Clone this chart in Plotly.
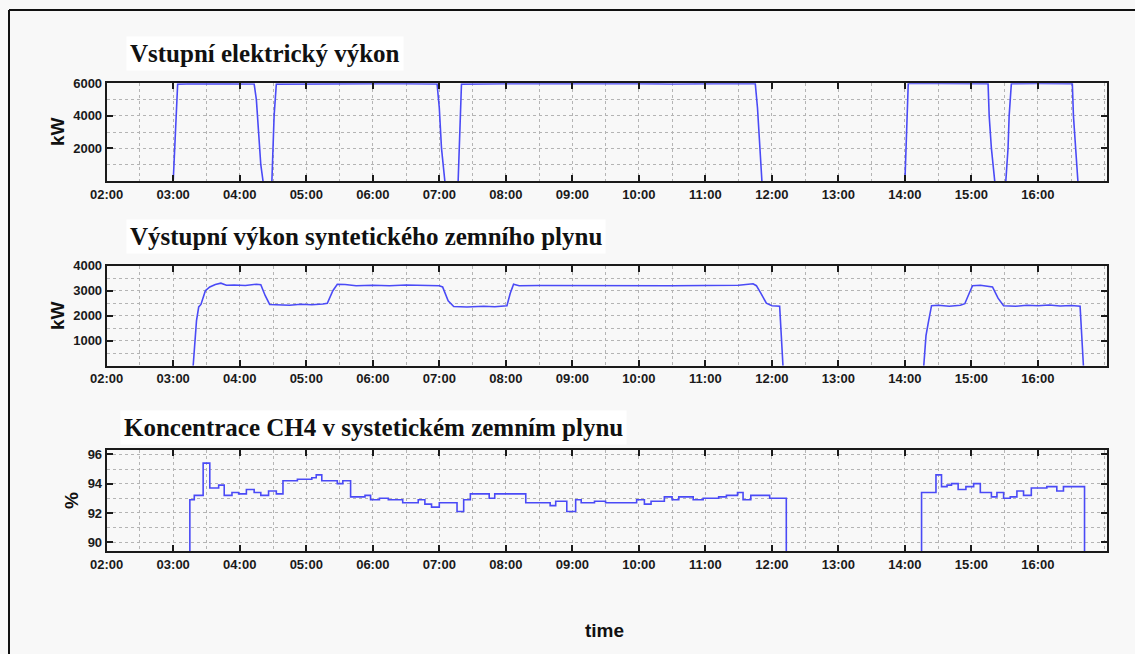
import pandas as pd
import plotly.graph_objects as go

DAY = "2020-01-01 "

# ---- Panel 1: Vstupní elektrický výkon (kW); None = line hidden on the zero level ----
t_el = ["03:00", "03:02", "03:04", "03:20", "03:40", "04:00", "04:13", "04:15", "04:17", "04:19", "04:21",
        "04:25",
        "04:29", "04:31", "04:33", "05:00", "05:30", "06:00", "06:30", "06:58", "07:00", "07:02", "07:05",
        "07:10",
        "07:17", "07:18", "07:20", "08:00", "08:30", "09:00", "09:30", "10:00", "10:30", "11:00", "11:30",
        "11:45", "11:47", "11:49", "11:51", "13:00",
        "14:00", "14:02", "14:03", "14:30", "15:00", "15:15", "15:16",
        "15:18", "15:21", "15:25",
        "15:31", "15:33", "15:34", "15:36", "16:00", "16:31", "16:32", "16:34", "16:36"]
p_el = [0, 3000, 5950, 5980, 5960, 5970, 5960, 5000, 3000, 1000, 0,
        None,
        0, 4000, 5950, 5970, 5960, 5980, 5970, 5960, 4500, 2000, 0,
        None,
        0, 2500, 5950, 5970, 5980, 5960, 5970, 5980, 5960, 5980, 5990,
        5990, 4500, 2000, 0, None,
        0, 4000, 5990, 5990, 5990, 5980, 4000,
        2000, 0, None,
        0, 2000, 4000, 5980, 5990, 5980, 4000, 2000, 0]

# ---- Panel 2: Výstupní výkon syntetického zemního plynu (kW) ----
t_sng = ["03:18", "03:21", "03:23", "03:25", "03:29", "03:33", "03:38", "03:43", "03:48", "03:55", "04:05",
         "04:15", "04:19", "04:23", "04:27", "04:35", "04:45", "04:55", "05:05", "05:15", "05:19", "05:24",
         "05:28", "05:35", "05:45", "06:00", "06:15", "06:30", "06:45", "07:00", "07:03", "07:08", "07:13",
         "07:25", "07:40", "07:50", "08:01", "08:04", "08:07", "08:12", "08:30", "09:00", "09:30", "10:00",
         "10:30", "11:00", "11:30", "11:43", "11:46", "11:50", "11:55", "12:00", "12:07", "12:10",
         "13:00",
         "14:17", "14:19", "14:21", "14:24", "14:30", "14:40", "14:50", "14:54", "14:58", "15:01", "15:08",
         "15:15", "15:19", "15:24", "15:29", "15:40", "15:50", "16:00", "16:10", "16:20", "16:30", "16:38",
         "16:41"]
p_sng = [0, 1800, 2350, 2450, 3000, 3150, 3250, 3300, 3220, 3230, 3210,
         3260, 3240, 2800, 2450, 2430, 2420, 2460, 2440, 2470, 2500, 3000,
         3260, 3250, 3200, 3220, 3200, 3230, 3210, 3200, 3150, 2600, 2370,
         2350, 2380, 2360, 2400, 2900, 3260, 3200, 3210, 3200, 3190, 3210,
         3200, 3210, 3220, 3280, 3200, 2900, 2500, 2400, 2380, 0,
         None,
         0, 1200, 1700, 2400, 2420, 2380, 2420, 2480, 2900, 3200, 3220,
         3180, 3150, 2700, 2400, 2380, 2420, 2400, 2430, 2390, 2410, 2380,
         0]

# ---- Panel 3: Koncentrace CH4 (%) ----
t_ch4 = ["03:15", "03:15", "03:19", "03:27", "03:33", "03:41", "03:46", "03:53", "03:59", "04:06", "04:13",
         "04:19", "04:26", "04:33", "04:39", "04:52", "05:05", "05:09", "05:14", "05:28", "05:33", "05:40",
         "05:53", "05:58", "06:06", "06:14", "06:27", "06:41", "06:47", "06:53", "07:00", "07:16", "07:22",
         "07:28", "07:45", "07:50", "08:18", "08:40", "08:45", "08:55", "09:03", "09:08", "09:20", "09:30",
         "09:58", "10:05", "10:11", "10:23", "10:30", "10:36", "10:49", "10:58", "11:12", "11:19", "11:29",
         "11:34", "11:41", "11:58", "12:13", "14:15", "14:15", "14:28", "14:33", "14:38", "14:42", "14:48",
         "14:55", "15:02", "15:08", "15:18", "15:23", "15:29", "15:35", "15:41", "15:47", "15:54", "16:08",
         "16:17", "16:23", "16:42"]
c_ch4 = [89.0, 92.9, 93.2, 95.4, 93.7, 93.9, 93.2, 93.4, 93.3, 93.6, 93.4,
         93.2, 93.5, 93.3, 94.2, 94.3, 94.4, 94.6, 94.2, 94.0, 94.2, 93.1,
         93.2, 92.9, 93.0, 92.9, 92.7, 92.9, 92.6, 92.4, 92.7, 92.1, 92.9,
         93.3, 93.0, 93.3, 92.7, 92.5, 92.8, 92.1, 92.9, 92.7, 92.8, 92.7,
         92.9, 92.6, 92.8, 93.1, 92.9, 93.1, 92.9, 93.0, 93.1, 93.2, 93.4,
         92.9, 93.2, 93.0, 89.0, 89.0, 93.4, 94.6, 93.8, 93.9, 94.0, 93.6,
         93.8, 94.0, 93.4, 93.1, 93.4, 93.0, 93.1, 93.5, 93.2, 93.7, 93.8,
         93.5, 93.8, 89.0]

hour_ticks = ["02:00", "03:00", "04:00", "05:00", "06:00", "07:00", "08:00", "09:00",
              "10:00", "11:00", "12:00", "13:00", "14:00", "15:00", "16:00"]

titles = ["Vstupní elektrický výkon",
          "Výstupní výkon syntetického zemního plynu",
          "Koncentrace CH4 v systetickém zemním plynu"]
y_titles = ["kW", "kW", "%"]
x_title = "time"


def ts(lst):
    return pd.to_datetime([DAY + t for t in lst])


W, H = 1135, 654
LINE = "#4a4af6"
AX = "#1a1a1a"
GRID = "#b4b4b4"
TICKFONT = dict(family="Liberation Sans, Arial", size=13, color="#1a1a1a", weight="bold")

fig = go.Figure()
fig.add_trace(go.Scatter(x=ts(t_el), y=p_el, mode="lines", line=dict(color=LINE, width=1.6),
                         connectgaps=False, xaxis="x", yaxis="y", showlegend=False))
fig.add_trace(go.Scatter(x=ts(t_sng), y=p_sng, mode="lines", line=dict(color=LINE, width=1.6),
                         connectgaps=False, xaxis="x2", yaxis="y2", showlegend=False))
fig.add_trace(go.Scatter(x=ts(t_ch4), y=c_ch4, mode="lines", line=dict(color=LINE, width=1.6, shape="hv"),
                         xaxis="x3", yaxis="y3", showlegend=False))

x_dom = [106.7 / W, 1106.7 / W]
panels_px = [(83.3, 181.0), (265.7, 365.7), (450.0, 551.0)]
y_doms = [[1 - b / H, 1 - t / H] for t, b in panels_px]
y_ranges = [[0, 6000], [0, 4000], [89.4, 96.3]]
y_tickvals = [[2000, 4000, 6000], [1000, 2000, 3000, 4000], [90, 92, 94, 96]]
y_minor = [(0, 1000), (0, 500), (90, 1)]


def xaxis(anchor):
    return dict(type="date", domain=x_dom, anchor=anchor, automargin=False,
                range=[DAY + "02:00", DAY + "17:02"],
                tickmode="array", tickvals=[DAY + h for h in hour_ticks], ticktext=hour_ticks,
                showline=True, linecolor=AX, linewidth=2, mirror="ticks",
                ticks="inside", ticklen=6, tickwidth=2, tickcolor=AX,
                showgrid=True, gridcolor=GRID, griddash="dot", gridwidth=1,
                minor=dict(tick0=DAY + "02:00", dtick=1800000, showgrid=True, gridcolor=GRID,
                           griddash="dot", gridwidth=1, ticks=""),
                tickfont=TICKFONT, zeroline=False, fixedrange=True)


def yaxis(i, anchor):
    return dict(domain=y_doms[i], anchor=anchor, range=y_ranges[i], automargin=False,
                tickmode="array", tickvals=y_tickvals[i],
                showline=True, linecolor=AX, linewidth=2, mirror="ticks",
                ticks="inside", ticklen=6, tickwidth=2, tickcolor=AX,
                showgrid=True, gridcolor=GRID, griddash="dot", gridwidth=1,
                minor=dict(tick0=y_minor[i][0], dtick=y_minor[i][1], showgrid=True, gridcolor=GRID,
                           griddash="dot", gridwidth=1, ticks=""),
                tickfont=TICKFONT, zeroline=False, fixedrange=True)


annotations = []
title_pos = [(126, 54), (126, 237), (120, 427)]
for (x, y), txt in zip(title_pos, titles):
    annotations.append(dict(text=txt, xref="paper", yref="paper", x=x / W, y=1 - y / H,
                            xanchor="left", yanchor="middle", showarrow=False,
                            bgcolor="#ffffff", borderpad=3,
                            font=dict(family="Liberation Serif, Times New Roman, serif", size=25,
                                      color="#111111", weight="bold")))
ylab_pos = [(57, 132), (57, 316), (71, 501)]
for (x, y), txt in zip(ylab_pos, y_titles):
    annotations.append(dict(text=txt, xref="paper", yref="paper", x=x / W, y=1 - y / H,
                            xanchor="center", yanchor="middle", showarrow=False, textangle=-90,
                            font=dict(family="Liberation Sans, Arial", size=19, color="#111111",
                                      weight="bold")))
annotations.append(dict(text=x_title, xref="paper", yref="paper", x=604 / W, y=1 - 630 / H,
                        xanchor="center", yanchor="middle", showarrow=False,
                        font=dict(family="Liberation Sans, Arial", size=19,
                                  color="#111111", weight="bold")))

shapes = [
    dict(type="line", xref="paper", yref="paper", x0=9 / W, x1=9 / W, y0=0, y1=1 - 10 / H,
         line=dict(color="#111111", width=2)),
    dict(type="line", xref="paper", yref="paper", x0=9 / W, x1=1, y0=1 - 10 / H, y1=1 - 10 / H,
         line=dict(color="#111111", width=2)),
]

fig.update_layout(
    width=W, height=H, autosize=False,
    margin=dict(l=0, r=0, t=0, b=0, autoexpand=False),
    paper_bgcolor="#f8f8f8", plot_bgcolor="#f8f8f8",
    xaxis=xaxis("y"), xaxis2=xaxis("y2"), xaxis3=xaxis("y3"),
    yaxis=yaxis(0, "x"), yaxis2=yaxis(1, "x2"), yaxis3=yaxis(2, "x3"),
    annotations=annotations, shapes=shapes, showlegend=False,
)

fig.write_html("out.html")
